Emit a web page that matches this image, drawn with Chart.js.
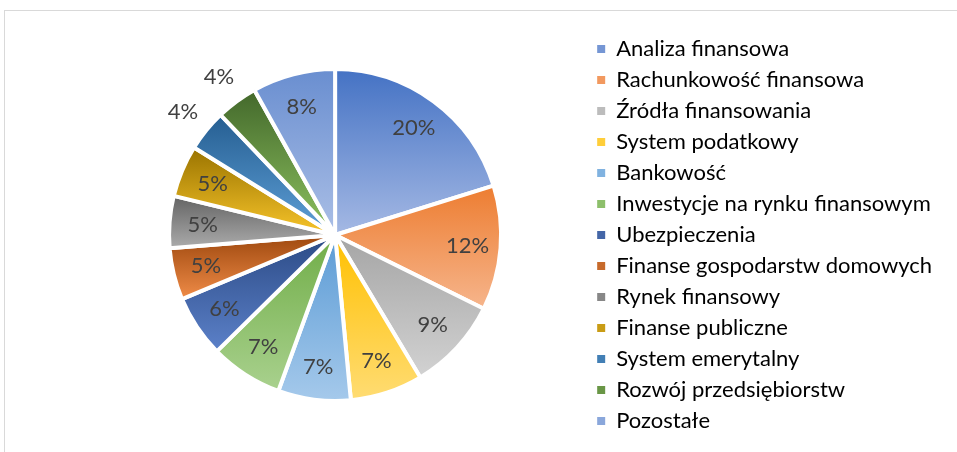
<!DOCTYPE html>
<html>
<head>
<meta charset="utf-8">
<script src="https://cdn.jsdelivr.net/npm/chart.js@4.4.1/dist/chart.umd.min.js"></script>
<style>
    body { margin: 0; background: #ffffff; overflow: hidden; }
    #frame { position: absolute; left: 4px; top: 10px; width: 1000px; height: 500px; border-left: 1px solid #d9d9d9; border-top: 1px solid #d9d9d9; }
    #pieChart { position: absolute; left: 0; top: 0; }
</style>
</head>
<body>
<div id="frame"></div>
<canvas id="pieChart" width="957" height="452"></canvas>
<script>
const categories = [
    'Analiza finansowa',
    'Rachunkowość finansowa',
    'Źródła finansowania',
    'System podatkowy',
    'Bankowość',
    'Inwestycje na rynku finansowym',
    'Ubezpieczenia',
    'Finanse gospodarstw domowych',
    'Rynek finansowy',
    'Finanse publiczne',
    'System emerytalny',
    'Rozwój przedsiębiorstw',
    'Pozostałe'
];

// share of answers, in percent
const shares = [20, 12, 9, 7, 7, 7, 6, 5, 5, 5, 4, 4, 8];

// each slice is shaded from the top colour down to the bottom colour
const topColors = ['#4472c4', '#ed7d31', '#a5a5a5', '#ffc000', '#5b9bd5', '#70ad47',
    '#2b4a85', '#9e480e', '#636363', '#997300', '#255e91', '#43682b', '#698ed0'];
const bottomColors = ['#a5b9e4', '#f6b58c', '#d2d2d2', '#ffdc73', '#a5c9eb', '#a9d18e',
    '#5c81c9', '#f08c48', '#ababab', '#f8c52a', '#5fa0d8', '#8ec360', '#abbfe6'];

const pieRadius = 166;
const labelFont = { family: 'Lato', size: 22 };

function mixColor(a, b) {
    var out = '#';
    for (let k = 1; k < 7; k += 2) {
        var v = Math.round((parseInt(a.substr(k, 2), 16) + parseInt(b.substr(k, 2), 16)) / 2);
        out += ('0' + v.toString(16)).slice(-2);
    }
    return out;
}

function sliceGradient(context) {
    var chart = context.chart;
    var area = chart.chartArea;
    var i = context.dataIndex;
    if (!area) {
        return topColors[i];
    }
    var total = shares.reduce((s, v) => s + v, 0);
    var before = 0;
    for (let j = 0; j < i; j++) {
        before += shares[j];
    }
    var a0 = before / total * Math.PI * 2;
    var a1 = (before + shares[i]) / total * Math.PI * 2;
    var cy = (area.top + area.bottom) / 2;

    //Vertical extent of the slice.
    var ys = [cy, cy - pieRadius * Math.cos(a0), cy - pieRadius * Math.cos(a1)];
    if (a0 <= 0) {
        ys.push(cy - pieRadius);
    }
    if (a0 < Math.PI && a1 > Math.PI) {
        ys.push(cy + pieRadius);
    }
    var gradient = chart.ctx.createLinearGradient(0, Math.min(...ys), 0, Math.max(...ys));
    gradient.addColorStop(0, topColors[i]);
    gradient.addColorStop(1, bottomColors[i]);
    return gradient;
}

const sliceLabels = {
    id: 'sliceLabels',
    afterDatasetsDraw(chart) {
        var ctx = chart.ctx;
        var meta = chart.getDatasetMeta(0);
        ctx.save();
        ctx.font = labelFont.size + 'px ' + labelFont.family;
        ctx.fillStyle = '#404040';
        ctx.textAlign = 'center';
        ctx.textBaseline = 'middle';
        meta.data.forEach(function (arc, i) {
            var mid = (arc.startAngle + arc.endAngle) / 2;
            //Small slices get their label outside the pie.
            var dist = shares[i] < 5 ? arc.outerRadius * 1.18 : arc.outerRadius * 0.8;
            ctx.fillText(shares[i] + '%', arc.x + Math.cos(mid) * dist, arc.y + Math.sin(mid) * dist);
        });
        ctx.restore();
    }
};

var pieChart = new Chart(document.getElementById('pieChart'), {
    type: 'pie',
    data: {
        labels: categories,
        datasets: [{
            data: shares,
            backgroundColor: sliceGradient,
            borderColor: '#ffffff',
            borderWidth: 4
        }]
    },
    options: {
        responsive: false,
        animation: false,
        radius: pieRadius,
        layout: {
            padding: { left: 82, right: 15, top: 18, bottom: 0 }
        },
        plugins: {
            tooltip: { enabled: false },
            legend: {
                position: 'right',
                labels: {
                    boxWidth: 8,
                    boxHeight: 8,
                    padding: 9,
                    color: '#595959',
                    font: labelFont,
                    generateLabels: function (chart) {
                        return categories.map(function (name, i) {
                            return {
                                text: name,
                                fillStyle: mixColor(topColors[i], bottomColors[i]),
                                strokeStyle: 'rgba(0,0,0,0)',
                                lineWidth: 0,
                                hidden: false,
                                index: i
                            };
                        });
                    }
                }
            }
        }
    },
    plugins: [sliceLabels]
});
</script>
</body>
</html>
